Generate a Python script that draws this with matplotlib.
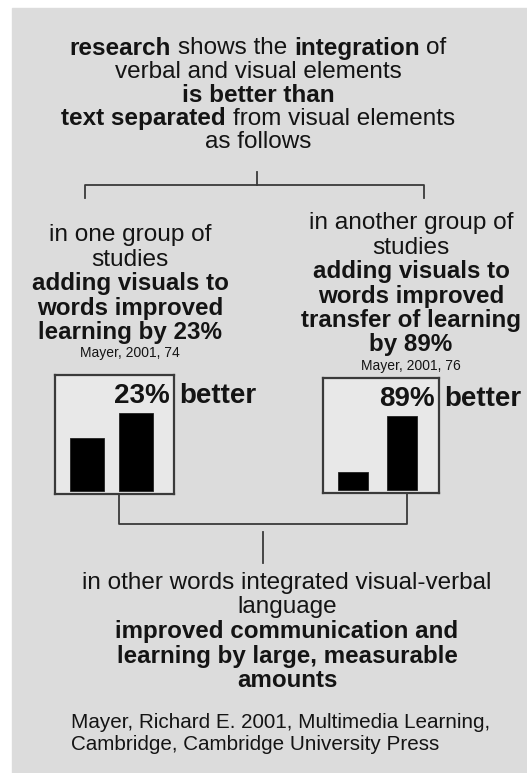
import matplotlib.pyplot as plt
from matplotlib.patches import Rectangle

plt.rcParams['font.family'] = ['Liberation Sans', 'DejaVu Sans']

W, H = 527, 773
BG = '#dcdcdc'
BOX = '#e8e8e8'
INK = '#141414'
LINE = '#3a3a3a'

# bar values (heights, arbitrary units)
group_labels = ['separated', 'integrated']
left_vals = [53, 78]
right_vals = [18, 74]
left_gain = '23%'
right_gain = '89%'

title_lines = [
    [('research', 'bold'), ('shows the', 'normal'), ('integration', 'bold'), ('of', 'normal')],
    [('verbal and visual elements', 'normal')],
    [('is better than', 'bold')],
    [('text separated', 'bold'), ('from visual elements', 'normal')],
    [('as follows', 'normal')],
]
left_text = [('in one group of', 'normal'), ('studies', 'normal'),
             ('adding visuals to', 'bold'), ('words improved', 'bold'),
             ('learning by 23%', 'bold')]
right_text = [('in another group of', 'normal'), ('studies', 'normal'),
              ('adding visuals to', 'bold'), ('words improved', 'bold'),
              ('transfer of learning', 'bold'), ('by 89%', 'bold')]
left_cite = 'Mayer, 2001, 74'
right_cite = 'Mayer, 2001, 76'
bottom_text = [('in other words integrated visual-verbal', 'normal'), ('language', 'normal'),
               ('improved communication and', 'bold'),
               ('learning by large, measurable', 'bold'), ('amounts', 'bold')]
reference = ['Mayer, Richard E. 2001, Multimedia Learning,',
             'Cambridge, Cambridge University Press']

fig = plt.figure(figsize=(W / 100, H / 100), dpi=100)
fig.patch.set_facecolor('white')
ax = fig.add_axes([0, 0, 1, 1])
ax.set_xlim(0, W)
ax.set_ylim(H, 0)
ax.axis('off')
ax.add_patch(Rectangle((12, 8), W - 12, H - 8, color=BG, zorder=0))

renderer = fig.canvas.get_renderer()


def width_of(s, size, weight):
    t = ax.text(0, 0, s, fontsize=size, fontweight=weight)
    w = t.get_window_extent(renderer).width
    t.remove()
    return w


def rich_line(x, y, parts, size):
    # mixed normal/bold segments, centred at x, joined by single spaces
    texts, widths = [], []
    for s, wt in parts:
        t = ax.text(0, y, s, fontsize=size, fontweight=wt, va='center_baseline',
                    ha='left', color=INK)
        texts.append(t)
        widths.append(t.get_window_extent(renderer).width)
    gaps = []
    for s, wt in parts[:-1]:
        gaps.append(width_of('x x', size, wt) - width_of('xx', size, wt))
    total = sum(widths) + sum(gaps)
    cur = x - total / 2
    for i, t in enumerate(texts):
        t.set_x(cur)
        cur += widths[i] + (gaps[i] if i < len(gaps) else 0)


for i, parts in enumerate(title_lines):
    rich_line(258, 46 + 23.5 * i, parts, 17.5)

# top bracket
ax.plot([257, 257], [172, 185], color=LINE, lw=1.3)
ax.plot([85, 85, 424, 424], [198, 185, 185, 198], color=LINE, lw=1.3)


def column(x, y0, lines, cite, step=24.2):
    for i, (s, wt) in enumerate(lines):
        size = 17.6 if wt == 'normal' else 17.4
        ax.text(x, y0 + step * i, s, fontsize=size, fontweight=wt, ha='center',
                va='center_baseline', color=INK)
    ax.text(x, y0 + step * len(lines) - 2, cite, fontsize=10, ha='center',
            va='center_baseline', color=INK)


column(130, 233, left_text, left_cite)
column(411, 221, right_text, right_cite)


def bar_box(px, py, pw, ph, vals, gain, xs, bw):
    b = fig.add_axes([px / W, 1 - (py + ph) / H, pw / W, ph / H])
    b.set_facecolor(BOX)
    b.bar(xs, vals, width=bw, color='black', edgecolor='#222222', lw=0.6)
    b.set_xlim(0, pw)
    b.set_ylim(-3, ph - 3)
    b.set_xticks([])
    b.set_yticks([])
    for sp in b.spines.values():
        sp.set_color(LINE)
        sp.set_linewidth(1.6)
    # label: percent ends just inside the right edge, "better" outside
    fx = px + pw - 4
    fig.text(fx, py + 18, gain, fontsize=20, fontweight='bold', ha='right',
             va='center_baseline', color=INK, transform=ax.transData)
    fig.text(fx + 9, py + 18, 'better', fontsize=20, fontweight='bold', ha='left',
             va='center_baseline', color=INK, transform=ax.transData)


bar_box(55, 375, 119, 119, left_vals, left_gain, [32, 81], 34)
bar_box(323, 378, 116, 115, right_vals, right_gain, [29.5, 79], 30)

# lower bracket
ax.plot([119, 119, 407, 407], [494, 524, 524, 493], color=LINE, lw=1.3)
ax.plot([263, 263], [532, 563], color=LINE, lw=1.3)

for i, (s, wt) in enumerate(bottom_text):
    ax.text(287, 580 + 24.5 * i, s, fontsize=17.5 if wt == 'normal' else 17.4,
            fontweight=wt, ha='center', va='center_baseline', color=INK)

for i, s in enumerate(reference):
    ax.text(71, 721 + 22 * i, s, fontsize=14.9, ha='left', va='center_baseline',
            color=INK)

fig.savefig('out.png', dpi=100, facecolor='white')
